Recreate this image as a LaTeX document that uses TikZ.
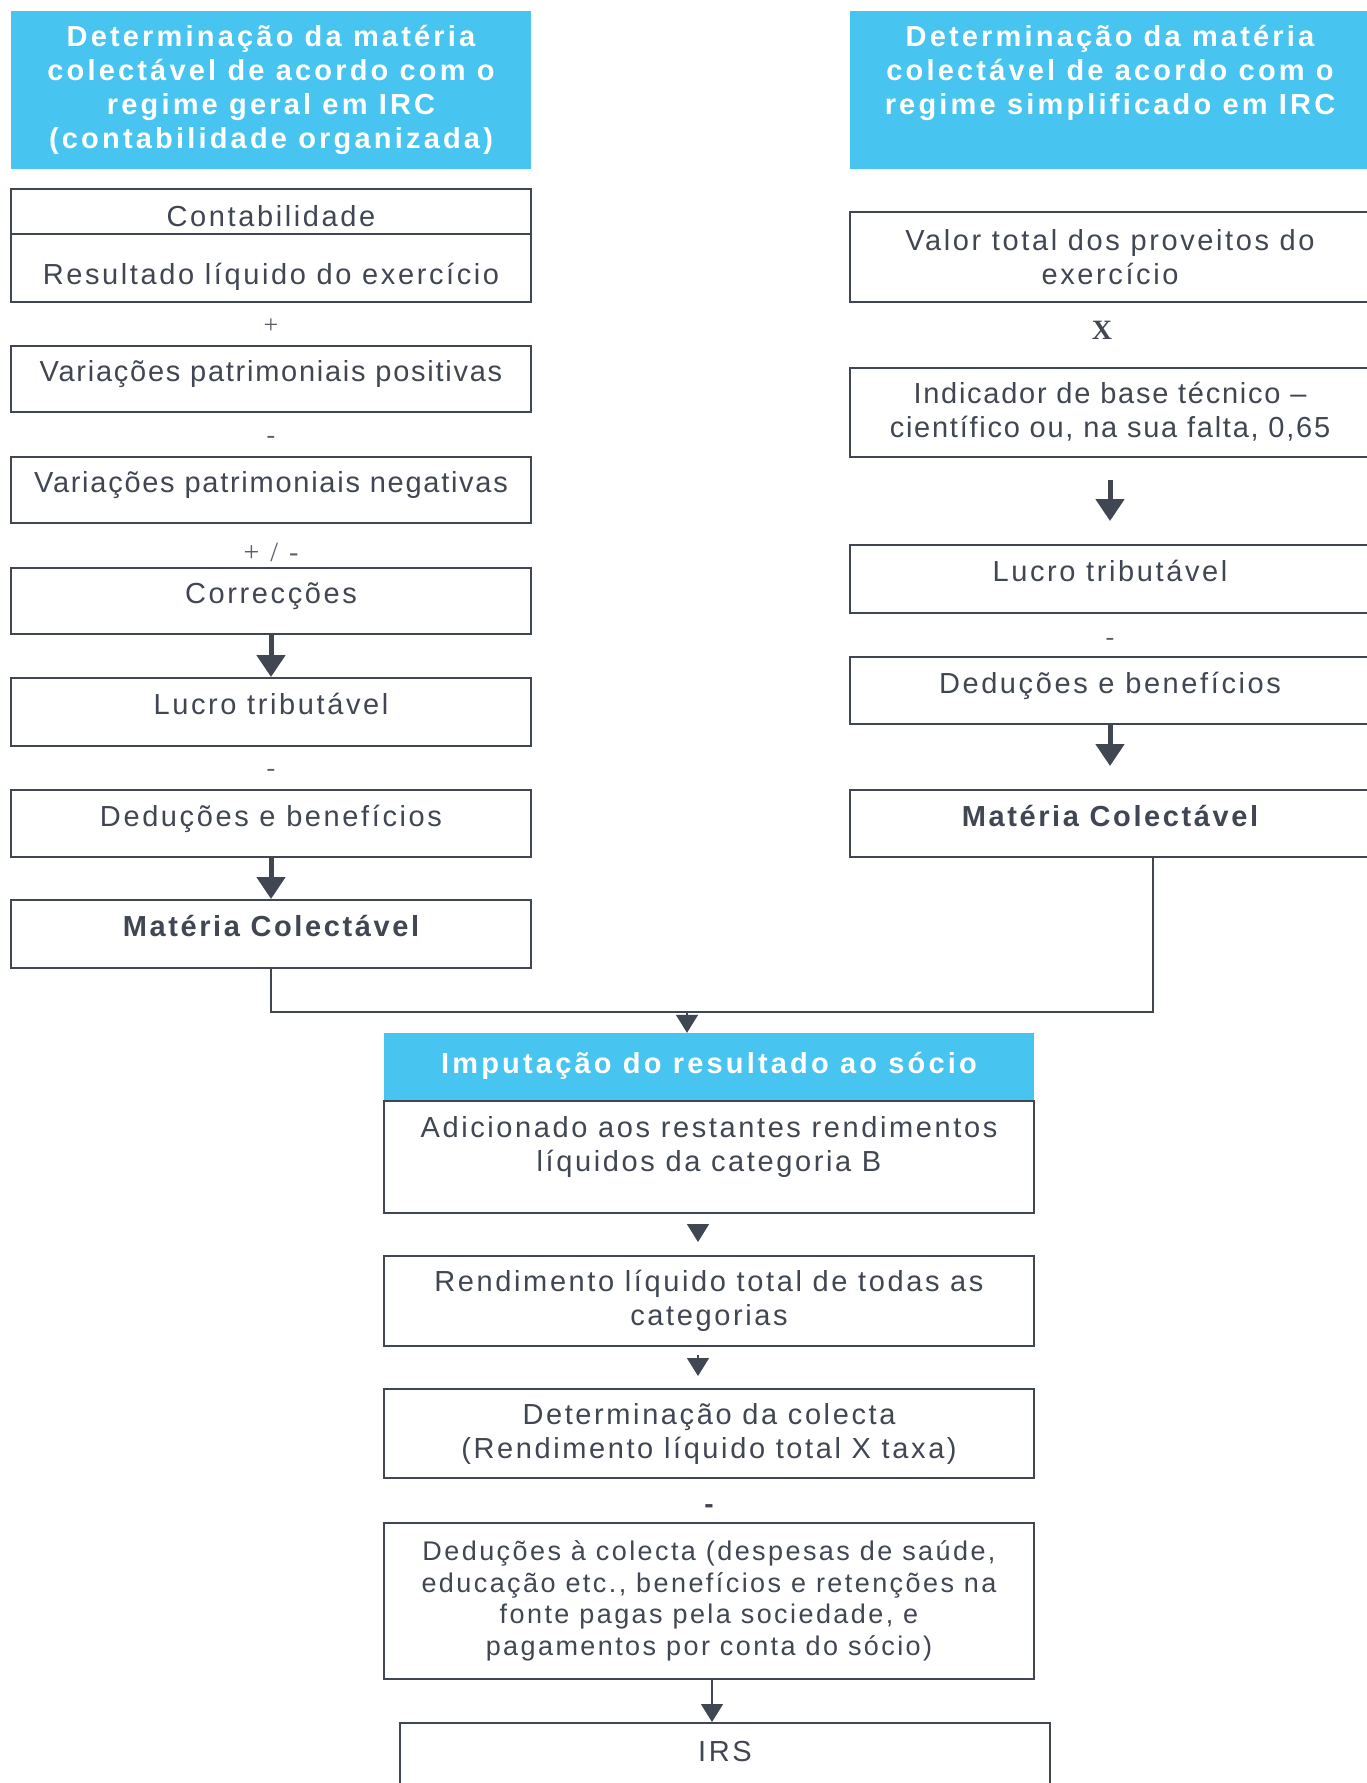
\documentclass[tikz,border=0pt]{standalone}
\usepackage{fontspec}
\setmainfont{Liberation Sans}
\newfontfamily\spacedfont[LetterSpace=9]{Liberation Sans}
\newfontfamily\hdrfont[LetterSpace=11]{Liberation Sans}
\newfontfamily\loosefont[LetterSpace=6]{Liberation Sans}
\newfontfamily\signfont{Liberation Serif}
\usetikzlibrary{arrows.meta,positioning,calc}

\definecolor{hdrBlue}{RGB}{71,196,240}
\definecolor{lineGray}{RGB}{64,70,82}
\definecolor{signGray}{RGB}{90,96,106}

\tikzset{
    hdr/.style={fill=hdrBlue,text=white,font=\hdrfont\bfseries\fontsize{29}{34}\selectfont,align=center,minimum width=520pt,inner sep=0pt},
    box/.style={draw=lineGray,line width=2pt,text=lineGray,font=\spacedfont\fontsize{29}{34}\selectfont,align=center,minimum width=520pt,inner sep=0pt},
    onebox/.style={box,text height=21pt,text depth=16pt},
    loose/.style={font=\loosefont\fontsize{29}{34}\selectfont},
    boldtxt/.style={font=\spacedfont\bfseries\fontsize{29}{34}\selectfont},
    sign/.style={text=signGray,font=\signfont\fontsize{26}{30}\selectfont,inner sep=0pt},
    bigarrow/.style={draw=lineGray,line width=5pt,-{Triangle[width=28pt,length=22pt]}},
    smallarrow/.style={draw=lineGray,line width=1.5pt,-{Triangle[width=22pt,length=18pt]}},
    link/.style={draw=lineGray,line width=1.5pt}
}

\begin{document}
\begin{tikzpicture}[x=1pt,y=-1pt]
        \useasboundingbox (0,0) rectangle (1367,1783);

        % Left side header
        \node[hdr,minimum height=158pt] (hdrLeft) at (271,90) {Determinação da matéria\\colectável de acordo com o\\regime geral em IRC\\(contabilidade organizada)};

        % Left side boxes
        \node[box,minimum height=45pt,text height=36pt,text depth=6pt] (contab) at (271,211.5) {Contabilidade};
        \node[box,minimum height=68pt,text height=39pt,text depth=6pt] (resultLeft) at (271,268) {Resultado líquido do exercício};
        \node[onebox,loose,minimum height=66pt] (varPos) at (271,379) {Variações patrimoniais positivas};
        \node[onebox,loose,minimum height=66pt] (varNeg) at (271,490) {Variações patrimoniais negativas};
        \node[onebox,minimum height=66pt] (correc) at (271,601) {Correcções};
        \node[onebox,minimum height=68pt] (lucroLeft) at (271,712) {Lucro tributável};
        \node[onebox,minimum height=67pt] (deducLeft) at (271,823.5) {Deduções e benefícios};
        \node[onebox,boldtxt,minimum height=68pt] (materiaLeft) at (271,934) {Matéria Colectável};

        % Left side signs
        \node[sign] (plusA) at (271,326) {+};
        \node[sign] (minusA) at (271,440) {-};
        \node[sign,font=\signfont\fontsize{28}{32}\selectfont] (plusMinus) at (271,552) {+\hspace{11pt}/\hspace{11pt}-};
        \node[sign] (minusB) at (271,773) {-};

        % Left side arrows
        \draw[bigarrow] (correc) -- (lucroLeft);
        \draw[bigarrow] (deducLeft) -- (materiaLeft);

        % Right side header
        \node[hdr,minimum height=158pt] (hdrRight) at (1110,90) {Determinação da matéria\\colectável de acordo com o\\regime simplificado em IRC\\\vphantom{(g}};

        % Right side boxes
        \node[box,minimum height=90pt] (valor) at (1110,257) {Valor total dos proveitos do\\exercício};
        \node[box,loose,minimum height=89pt] (indic) at (1110,412) {Indicador de base técnico –\\científico ou, na sua falta, 0,65};
        \node[onebox,minimum height=68pt] (lucroRight) at (1110,579) {Lucro tributável};
        \node[onebox,minimum height=67pt] (deducRight) at (1110,690.5) {Deduções e benefícios};
        \node[onebox,boldtxt,minimum height=67pt] (materiaRight) at (1110,823.5) {Matéria Colectável};

        % Right side signs
        \node[text=lineGray,font=\signfont\bfseries\fontsize{28}{32}\selectfont,inner sep=0pt] (timesX) at (1102,330) {X};
        \node[sign] (minusC) at (1110,642) {-};

        % Right side arrows
        \draw[bigarrow,shorten <=22pt,shorten >=23pt] (indic) -- (lucroRight);
        \draw[bigarrow,shorten >=23pt] (deducRight) -- (materiaRight);

        % ================== Joining lines ==================
        \coordinate (joinPt) at (687,1012);
        \coordinate (matRightOut) at ([xshift=43pt]materiaRight.south);
        \draw[link] (materiaLeft.south) |- (joinPt) -| (matRightOut);
        % ===================================================

        % Middle header and boxes
        \node[hdr,minimum width=650pt,minimum height=68pt,text height=21pt,text depth=8pt] (imput) at (709,1067) {Imputação do resultado ao sócio};
        \node[box,minimum width=650pt,minimum height=112pt] (adic) at (709,1156.5) {Adicionado aos restantes rendimentos\\líquidos da categoria B\\[-14pt]\vphantom{g}};
        \node[box,minimum width=650pt,minimum height=90pt] (rend) at (709,1301) {Rendimento líquido total de todas as\\categorias};
        \node[box,minimum width=650pt,minimum height=89pt] (deter) at (709,1433.5) {Determinação da colecta\\(Rendimento líquido total X taxa)};
        \node[text=lineGray,font=\bfseries\fontsize{28}{32}\selectfont,inner sep=0pt] (minusD) at (709,1509) {-};
        \node[box,minimum width=650pt,minimum height=156pt,font=\spacedfont\fontsize{27}{31.5}\selectfont] (dedcol) at (709,1601) {Deduções à colecta (despesas de saúde,\\educação etc., benefícios e retenções na\\fonte pagas pela sociedade, e\\pagamentos por conta do sócio)};
        \node[box,minimum width=650pt,minimum height=64pt,text height=21pt,text depth=8pt] (irs) at (725,1755) {IRS};

        % Middle arrows
        \draw[smallarrow] (joinPt) -- (joinPt |- imput.north);
        \draw[smallarrow,shorten <=10pt,shorten >=13pt] ([xshift=-11pt]adic.south) -- ([xshift=-11pt]rend.north);
        \draw[smallarrow,shorten <=8pt,shorten >=12pt] ([xshift=-11pt]rend.south) -- ([xshift=-11pt]deter.north);
        \draw[smallarrow] ([xshift=3pt]dedcol.south) -- ([xshift=-13pt]irs.north);

\end{tikzpicture}
\end{document}
